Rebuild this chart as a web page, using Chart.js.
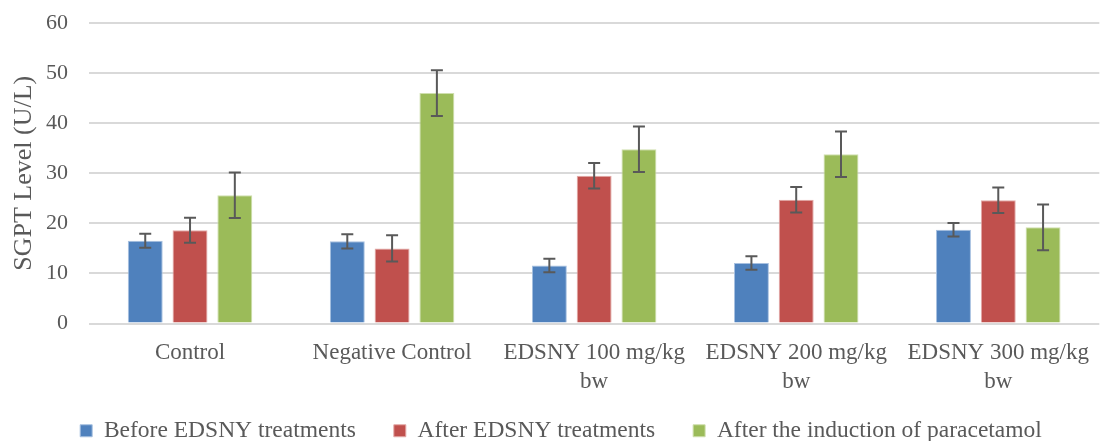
<!DOCTYPE html>
<html>
<head>
<meta charset="utf-8">
<script src="https://cdn.jsdelivr.net/npm/chart.js@4"></script>
<style>
  html, body { margin: 0; padding: 0; background: #fff; }
  #wrap { width: 1104px; height: 441px; }
</style>
</head>
<body>
<div id="wrap"><canvas id="chart"></canvas></div>
<script>
// datos
const categories = ["Control", "Negative Control", ["EDSNY 100 mg/kg", "bw"], ["EDSNY 200 mg/kg", "bw"], ["EDSNY 300 mg/kg", "bw"]];
const seriesNames = ["Before EDSNY treatments", "After EDSNY treatments", "After the induction of paracetamol"];
const before = [16.5, 16.4, 11.6, 12.1, 18.7];
const after = [18.6, 15.0, 29.5, 24.7, 24.6];
const paracetamol = [25.6, 46.0, 34.8, 33.8, 19.2];
const errBefore = [1.4, 1.4, 1.35, 1.35, 1.35];
const errAfter = [2.5, 2.6, 2.55, 2.55, 2.55];
const errPara = [4.55, 4.55, 4.55, 4.55, 4.55];
const yTicks = [0, 10, 20, 30, 40, 50, 60];

const FONT = "'Liberation Serif', 'DejaVu Serif', serif";
const GREY = "#595959";

// barras de error dibujadas con la escala y
const errorBars = {
  id: "errorBars",
  afterDatasetsDraw(chart) {
    const { ctx } = chart;
    const y = chart.scales.y;
    chart.data.datasets.forEach((ds, i) => {
      const meta = chart.getDatasetMeta(i);
      meta.data.forEach((bar, j) => {
        const v = ds.data[j], e = ds.errors[j];
        const top = y.getPixelForValue(v + e), bot = y.getPixelForValue(v - e);
        ctx.save();
        ctx.strokeStyle = GREY;
        ctx.lineWidth = 2;
        ctx.beginPath();
        ctx.moveTo(bar.x, top); ctx.lineTo(bar.x, bot);
        ctx.moveTo(bar.x - 6, top); ctx.lineTo(bar.x + 6, top);
        ctx.moveTo(bar.x - 6, bot); ctx.lineTo(bar.x + 6, bot);
        ctx.stroke();
        ctx.restore();
      });
    });
  }
};

// la leyenda usa padding grande para separar items; fijamos su alto y la corremos un poco
const legendHeight = {
  id: "legendHeight",
  afterInit(chart) {
    const lg = chart.legend;
    if (!lg) return;
    const origFit = lg.fit, origDraw = lg.draw;
    lg.fit = function () { origFit.call(this); this.height = 63; };
    lg.draw = function () {
      const ctx = this.ctx;
      ctx.save();
      ctx.translate(9, 3);
      origDraw.call(this);
      ctx.restore();
    };
  }
};

new Chart(document.getElementById("chart").getContext("2d"), {
  type: "bar",
  data: {
    labels: categories,
    datasets: [
      { label: seriesNames[0], data: before, errors: errBefore, backgroundColor: "#4F81BD", borderColor: "#A7C0E0", borderWidth: 1 },
      { label: seriesNames[1], data: after, errors: errAfter, backgroundColor: "#C0504D", borderColor: "#E3AAA8", borderWidth: 1 },
      { label: seriesNames[2], data: paracetamol, errors: errPara, backgroundColor: "#9BBB59", borderColor: "#CFDFAE", borderWidth: 1 }
    ]
  },
  options: {
    responsive: true,
    maintainAspectRatio: false,
    animation: false,
    layout: { padding: { top: 23, right: 0, left: 0, bottom: 0 } },
    datasets: { bar: { categoryPercentage: 0.665, barPercentage: 0.78 } },
    plugins: {
      tooltip: { enabled: false },
      legend: {
        position: "bottom",
        labels: {
          boxWidth: 12, boxHeight: 12, padding: 38,
          color: GREY,
          font: { family: FONT, size: 23.5 }
        }
      }
    },
    scales: {
      x: {
        grid: { display: false, drawTicks: false },
        border: { display: false },
        afterFit: (s) => { s.height = 54.5; s._computeLabelArea = () => undefined; },
        ticks: { color: GREY, font: { family: FONT, size: 23, lineHeight: 1.25 }, maxRotation: 0, autoSkip: false, padding: 15 }
      },
      y: {
        min: 0, max: 60,
        afterBuildTicks: (s) => { s.ticks = yTicks.map(v => ({ value: v })); },
        afterFit: (s) => { s.width = 89; s.paddingTop = 0; s.paddingBottom = 0; },
        grid: { color: "#D9D9D9", lineWidth: 2, drawTicks: false },
        border: { display: false },
        ticks: { color: GREY, font: { family: FONT, size: 22 }, padding: 21 },
        title: { display: true, text: "SGPT Level (U/L)", color: GREY, font: { family: FONT, size: 26 }, padding: { top: 9, bottom: 0 } }
      }
    }
  },
  plugins: [errorBars, legendHeight]
});
</script>
</body>
</html>
